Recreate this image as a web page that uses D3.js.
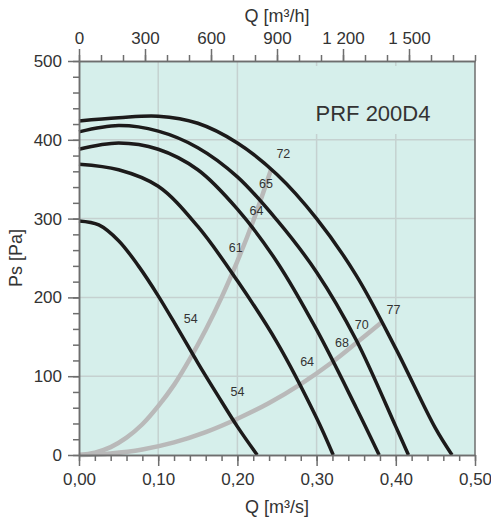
<!DOCTYPE html>
<html>
<head>
<meta charset="utf-8">
<script src="https://cdn.jsdelivr.net/npm/d3@7"></script>
<style>
  body { margin: 0; background: #fff; }
  text { font-family: "Liberation Sans", Arial, sans-serif; fill: #333; }
</style>
</head>
<body>
<div id="chart"></div>
<script>
// fan curves, [Q m3/s, Ps Pa]
const fan1 = [[0,424],[0.05,428],[0.10,430],[0.15,421],[0.20,396],[0.25,356],[0.30,300],[0.35,228],[0.40,135],[0.45,34],[0.471,0]];
const fan2 = [[0,410],[0.05,418],[0.10,411],[0.15,390],[0.20,353],[0.25,298],[0.30,232],[0.35,146],[0.40,36],[0.416,0]];
const fan3 = [[0,388],[0.05,396],[0.10,388],[0.15,362],[0.20,312],[0.25,245],[0.30,159],[0.35,60],[0.379,0]];
const fan4 = [[0,369],[0.05,362],[0.10,341],[0.15,290],[0.20,221],[0.25,143],[0.30,47],[0.321,0]];
const fan5 = [[0,297],[0.025,292],[0.05,272],[0.075,240],[0.10,202],[0.125,160],[0.15,117],[0.175,76],[0.20,36],[0.225,0]];
const fans = [fan1, fan2, fan3, fan4, fan5];

// system curves
const sysSteep = [[0,0],[0.02,3],[0.04,10],[0.06,22],[0.08,39],[0.10,62],[0.12,89],[0.14,122],[0.16,159],[0.18,200],[0.20,246],[0.22,297],[0.243,364]];
const sysFlat = [[0,0],[0.04,2],[0.08,7],[0.12,16],[0.16,29],[0.20,46],[0.24,66],[0.28,90],[0.32,118],[0.35,142],[0.383,169]];

// sound level labels [Q, Ps, text]
const labelsSteep = [[0.258,383,"72"],[0.236,345,"65"],[0.224,310,"64"],[0.198,263,"61"],[0.141,173,"54"]];
const labelsFlat = [[0.397,185,"77"],[0.357,166,"70"],[0.332,143,"68"],[0.288,119,"64"],[0.2,80,"54"]];

const xTicks = [0, 0.1, 0.2, 0.3, 0.4, 0.5];
const yTicks = [0, 100, 200, 300, 400, 500];
const topTicks = [0, 300, 600, 900, 1200, 1500];

const width = 491, height = 522;
const margin = { top: 61, right: 16, bottom: 67, left: 79 };

const svg = d3.select("#chart").append("svg")
  .attr("width", width).attr("height", height);

const x = d3.scaleLinear().domain([0, 0.5]).range([margin.left, width - margin.right]);
const y = d3.scaleLinear().domain([0, 500]).range([height - margin.bottom, margin.top]);
const xTop = d3.scaleLinear().domain([0, 1800]).range([margin.left, width - margin.right]);

svg.append("rect")
  .attr("x", x(0)).attr("y", y(500))
  .attr("width", x(0.5) - x(0)).attr("height", y(0) - y(500))
  .attr("fill", "#d6efeb");

const grid = svg.append("g").attr("stroke", "#c5d1d0").attr("stroke-width", 1.5);
grid.selectAll(".gx").data(xTicks.slice(1, -1)).join("line")
  .attr("x1", d => x(d)).attr("x2", d => x(d))
  .attr("y1", y(0)).attr("y2", y(500));
grid.selectAll(".gy").data(yTicks.slice(1, -1)).join("line")
  .attr("y1", d => y(d)).attr("y2", d => y(d))
  .attr("x1", x(0)).attr("x2", x(0.5));

// box behind the title
svg.append("rect")
  .attr("x", 292).attr("y", 66).attr("width", 180).attr("height", 68)
  .attr("fill", "#d6efeb");
svg.append("text")
  .attr("x", 373).attr("y", 121)
  .attr("text-anchor", "middle")
  .attr("font-size", 22)
  .text("PRF 200D4");

const line = d3.line()
  .x(d => x(d[0])).y(d => y(d[1]))
  .curve(d3.curveCatmullRom.alpha(0.5));

svg.append("g")
  .attr("fill", "none").attr("stroke", "#b9b9b9").attr("stroke-width", 4.5)
  .selectAll("path").data([sysSteep, sysFlat]).join("path")
  .attr("d", line);

svg.append("g")
  .attr("fill", "none").attr("stroke", "#1c1a1a").attr("stroke-width", 3.5)
  .selectAll("path").data(fans).join("path")
  .attr("d", line);

svg.append("g")
  .attr("font-size", 12.5).attr("text-anchor", "middle")
  .selectAll("text").data(labelsSteep.concat(labelsFlat)).join("text")
  .attr("x", d => x(d[0])).attr("y", d => y(d[1]))
  .attr("dy", "0.35em")
  .text(d => d[2]);

// axes
const fmtComma = d => d3.format(".2f")(d).replace(".", ",");
const fmtSpace = d => d3.format(",")(d).replace(",", " ");

function styleAxis(g) {
  g.attr("font-size", 17).attr("font-family", null);
  g.selectAll("path, line").attr("stroke", "#6e6e6e").attr("stroke-width", 1.5);
  g.selectAll("text").attr("fill", "#333");
}

svg.append("g")
  .attr("transform", `translate(0,${y(0)})`)
  .call(d3.axisBottom(x).ticks(25).tickSize(6).tickFormat("").tickSizeOuter(0))
  .call(styleAxis);
svg.append("g")
  .attr("transform", `translate(0,${y(0)})`)
  .call(d3.axisBottom(x).tickValues(xTicks).tickSize(11).tickPadding(7).tickFormat(fmtComma).tickSizeOuter(0))
  .call(styleAxis);

svg.append("g")
  .attr("transform", `translate(${x(0)},0)`)
  .call(d3.axisLeft(y).ticks(25).tickSize(6).tickFormat("").tickSizeOuter(0))
  .call(styleAxis);
svg.append("g")
  .attr("transform", `translate(${x(0)},0)`)
  .call(d3.axisLeft(y).tickValues(yTicks).tickSize(11).tickPadding(6).tickSizeOuter(0))
  .call(styleAxis);

svg.append("g")
  .attr("transform", `translate(0,${y(500)})`)
  .call(d3.axisTop(xTop).tickValues(d3.range(0, 1801, 100)).tickSize(6).tickFormat("").tickSizeOuter(0))
  .call(styleAxis);
svg.append("g")
  .attr("transform", `translate(0,${y(500)})`)
  .call(d3.axisTop(xTop).tickValues(topTicks).tickSize(12).tickPadding(5).tickFormat(fmtSpace).tickSizeOuter(0))
  .call(styleAxis);

svg.append("line")
  .attr("x1", x(0.5)).attr("x2", x(0.5))
  .attr("y1", y(0)).attr("y2", y(500))
  .attr("stroke", "#6e6e6e").attr("stroke-width", 1.5);

svg.append("text")
  .attr("x", (x(0) + x(0.5)) / 2).attr("y", 513)
  .attr("text-anchor", "middle").attr("font-size", 18)
  .text("Q [m³/s]");
svg.append("text")
  .attr("x", (x(0) + x(0.5)) / 2).attr("y", 22)
  .attr("text-anchor", "middle").attr("font-size", 18)
  .text("Q [m³/h]");
svg.append("text")
  .attr("transform", `translate(22,${(y(0) + y(500)) / 2}) rotate(-90)`)
  .attr("text-anchor", "middle").attr("font-size", 18)
  .text("Ps [Pa]");
</script>
</body>
</html>
